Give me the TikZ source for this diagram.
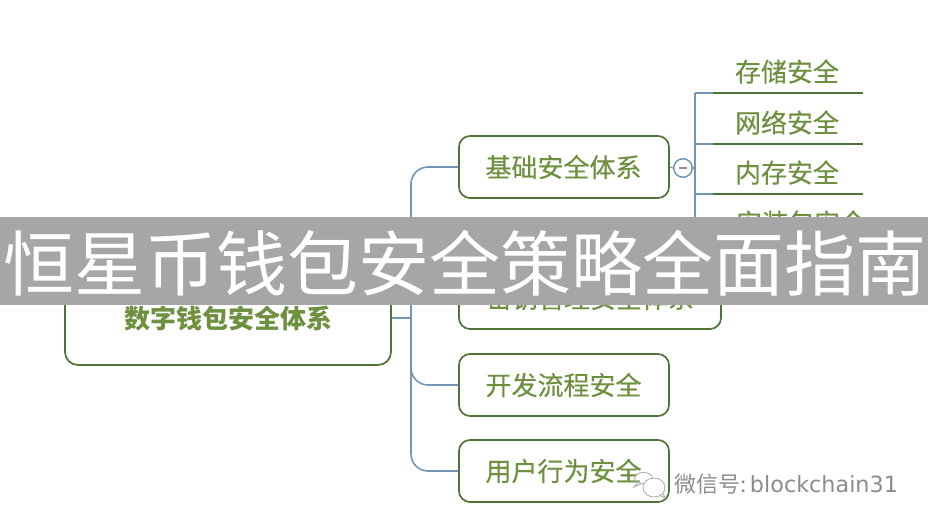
\documentclass[tikz,border=0pt]{standalone}
\usepackage{fontspec}
\setmainfont{Noto Sans CJK SC}
\newfontfamily\cjkheavy{Noto Sans CJK SC}[FakeBold=0.35]
\newfontfamily\latinwm{DejaVu Sans}
\definecolor{txtgreen}{HTML}{6E9140}
\definecolor{boxgreen}{HTML}{4F7336}
\definecolor{linkblue}{HTML}{7396B4}
\definecolor{bannergray}{HTML}{A6A6A6}
\definecolor{wmgray}{HTML}{8C8C8C}
\definecolor{iconedge}{HTML}{B0B0B0}
\definecolor{minusmark}{HTML}{A58A90}
\tikzset{
  x=1pt,y=-1pt,
  topicbox/.style={draw=boxgreen,line width=1.7pt,fill=white,rounded corners=11pt,inner sep=0pt,minimum height=62pt,text=txtgreen,font=\cjkheavy\fontsize{26}{28}\selectfont},
  rootbox/.style={draw=boxgreen,line width=1.7pt,fill=white,rounded corners=13pt,inner sep=0pt,minimum width=326pt,minimum height=92pt,text=txtgreen,font=\fontsize{26}{28}\selectfont\bfseries},
  leaftext/.style={inner sep=0pt,text=txtgreen,font=\cjkheavy\fontsize{26}{28}\selectfont},
  link/.style={draw=linkblue,line width=1.6pt},
  rule/.style={draw=boxgreen,line width=1.7pt},
}
\begin{document}
\begin{tikzpicture}
\useasboundingbox (0,0) rectangle (928,522);
\fill[white] (0,0) rectangle (928,522);
% main nodes
\node[rootbox] (root) at (228,319) {\raisebox{-2pt}{数字钱包安全体系}};
\node[topicbox,minimum width=210pt] (t1) at (564,167) {\hspace{-1pt}\raisebox{-1.5pt}{基础安全体系}};
\node[topicbox,minimum width=262pt] (t2) at (590,298) {\raisebox{-4pt}{密钥管理安全体系}};
\node[topicbox,minimum width=210pt] (t3) at (564,385) {\hspace{-1pt}\raisebox{-1.5pt}{开发流程安全}};
\node[topicbox,minimum width=210pt] (t4) at (564,471) {\hspace{-1pt}\raisebox{-1.5pt}{用户行为安全}};
% trunk
\coordinate (hub) at (411,318);
\draw[link] (root.east |- hub) -- (hub);
\draw[link,rounded corners=17pt] (t1.west) -| (hub);
\draw[link] (t2.west) -- (hub |- t2.west);
\draw[link,rounded corners=17pt] (t3.west) -| (hub);
\draw[link,rounded corners=17pt] (t4.west) -| (hub);
% collapse button and leaves
\coordinate (fork) at (695,168);
\coordinate (r1) at (863,93);
\coordinate (r2) at (863,144);
\coordinate (r3) at (863,194);
\coordinate (r4) at (863,244);
\coordinate (s1) at (713,93);
\coordinate (s2) at (713,144);
\coordinate (s3) at (713,194);
\draw[link,line width=1.9pt] (fork |- r1) -- (fork |- r4);
\node[draw=linkblue,line width=1.5pt,circle,minimum size=18.5pt,inner sep=0pt,fill=white] (btn) at (683,168) {};
\draw[draw=minusmark,line width=1.1pt] (679,168) -- (687,168);
\draw[link,line width=1.1pt] (t1.east) -- (btn.west);
\draw[link,line width=1.1pt] (btn.east) -- (fork);
\draw[link] (fork |- r1) -- (s1);
\draw[link] (fork |- r2) -- (s2);
\draw[link] (fork |- r3) -- (s3);
\draw[rule] (s1) -- (r1);
\draw[rule] (s2) -- (r2);
\draw[rule] (s3) -- (r3);
\node[leaftext] (l1) at (787,71.5) {存储安全};
\node[leaftext] (l2) at (787,122.5) {网络安全};
\node[leaftext] (l3) at (787,172.5) {内存安全};
\begin{scope}
\clip (690,200) rectangle (863,240);
\node[leaftext,anchor=west] (l4) at (736,222.5) {安装包安全};
\end{scope}
% banner
\fill[bannergray] (0,217) rectangle (928,305);
\node[inner sep=0pt,text=white,font=\fontsize{71}{76}\selectfont] (title) at (465,263) {恒星币钱包安全策略全面指南};
% watermark
\begin{scope}[draw=iconedge,line width=0.9pt]
\draw (643.5,478) ellipse (9 and 5.5);
\draw (638,482.5) -- (634,487) -- (641,484);
\filldraw[fill=white] (654,487.5) ellipse (11 and 9.5);
\draw (660,495.5) -- (665,498) -- (663,493.5);
\end{scope}
\node[anchor=west,inner sep=0pt,text=wmgray,font=\fontsize{22}{24}\selectfont] (wm) at (674,484) {微信号:\,{\latinwm\fontsize{22.3}{24}\selectfont blockchain31}};
\end{tikzpicture}
\end{document}
